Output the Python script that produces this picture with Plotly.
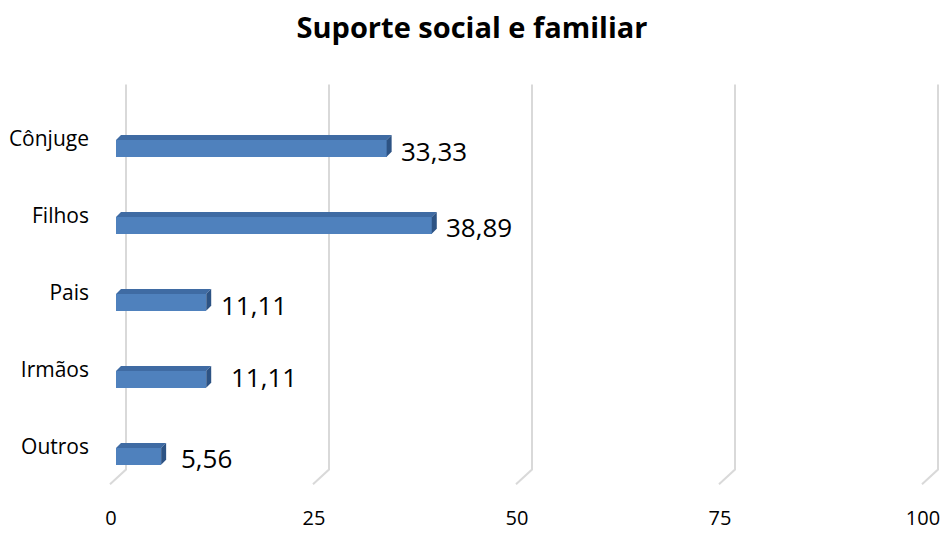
import plotly.graph_objects as go

# --- data ---
categories = ["Cônjuge", "Filhos", "Pais", "Irmãos", "Outros"]
values = [33.33, 38.89, 11.11, 11.11, 5.56]
x_ticks = [0, 25, 50, 75, 100]
title_text = "Suporte social e familiar"

# --- geometry (pixels converted to data units) ---
W, H = 944, 535
M_L, M_R, M_T, M_B = 100, 4, 60, 35
X_RANGE = [-1.970, 101.478]
Y_RANGE = [-0.464, 5.148]
plot_w = W - M_L - M_R
plot_h = H - M_T - M_B
kx = (X_RANGE[1] - X_RANGE[0]) / plot_w   # data units per px (x)
ky = (Y_RANGE[1] - Y_RANGE[0]) / plot_h   # data units per px (y)

BAR_W = 17 * ky
DEPTH_X = 5 * kx
DEPTH_Y = 5 * ky

FRONT = "#4f81bd"
TOP = "#3f6ba3"
SIDE = "#2d5384"
GRID = "#d9d9d9"
FONT = "Open Sans"

# per-label nudges in px (manual label placement)
label_dx = [12, 12, 13, 23, 18]
label_dy = [-2.5, -1.5, -2.5, 2, -1.5]

n = len(categories)
ypos = [n - 1 - i for i in range(n)]

fig = go.Figure()

fig.add_trace(go.Bar(
    x=values, y=ypos, orientation="h", base=0, width=BAR_W,
    marker=dict(color=FRONT, line=dict(width=0)),
    hoverinfo="skip", showlegend=False,
))

shapes = []

# walls / floor gridlines: vertical back line plus slanted floor segment
y_top = (463.6 - 85) / 78.4
y_back = (463.6 - 477) / 78.4
y_front = (463.6 - 492) / 78.4
for t in x_ticks:
    xb = t + 10 * kx
    xf = t - 6 * kx
    shapes.append(dict(
        type="path", xref="x", yref="y", layer="below",
        path=f"M {xb},{y_top} L {xb},{y_back} L {xf},{y_front}",
        line=dict(color=GRID, width=2),
    ))

# 3D faces of each bar
for v, y in zip(values, ypos):
    yt = y + BAR_W / 2
    yb = y - BAR_W / 2
    shapes.append(dict(
        type="path", xref="x", yref="y", layer="above",
        path=(f"M 0,{yt} L {v},{yt} L {v + DEPTH_X},{yt + DEPTH_Y} "
              f"L {DEPTH_X},{yt + DEPTH_Y} Z"),
        fillcolor=TOP, line=dict(width=0),
    ))
    shapes.append(dict(
        type="path", xref="x", yref="y", layer="above",
        path=(f"M {v},{yt} L {v + DEPTH_X},{yt + DEPTH_Y} "
              f"L {v + DEPTH_X},{yb + DEPTH_Y} L {v},{yb} Z"),
        fillcolor=SIDE, line=dict(width=0),
    ))

annotations = []
for v, y, dx, dy in zip(values, ypos, label_dx, label_dy):
    annotations.append(dict(
        x=v, y=y, xref="x", yref="y", xanchor="left", yanchor="middle",
        text=f"{v:.2f}".replace(".", ","), showarrow=False,
        xshift=dx, yshift=dy,
        font=dict(family=FONT, size=26, color="#000000"),
    ))

fig.update_layout(
    width=W, height=H,
    margin=dict(l=M_L, r=M_R, t=M_T, b=M_B),
    paper_bgcolor="white", plot_bgcolor="white",
    title=dict(
        text=f"<b>{title_text}</b>", x=0.5, xanchor="center",
        xref="container", y=1 - 28 / H, yref="container", yanchor="middle",
        font=dict(family=FONT, size=29, color="#000000"),
    ),
    shapes=shapes, annotations=annotations,
    xaxis=dict(
        range=X_RANGE, tickvals=x_ticks, ticktext=[str(t) for t in x_ticks],
        showgrid=False, zeroline=False, showline=False, ticks="",
        ticklabelshift=-5, ticklabelstandoff=12,
        tickfont=dict(family=FONT, size=20, color="#000000"),
        fixedrange=True,
    ),
    yaxis=dict(
        range=Y_RANGE, tickvals=ypos, ticktext=categories,
        showgrid=False, zeroline=False, showline=False, ticks="",
        ticklabelshift=-10, ticklabelstandoff=10,
        tickfont=dict(family=FONT, size=21, color="#000000"),
        fixedrange=True,
    ),
    bargap=0,
)

fig.write_html("out.html")
